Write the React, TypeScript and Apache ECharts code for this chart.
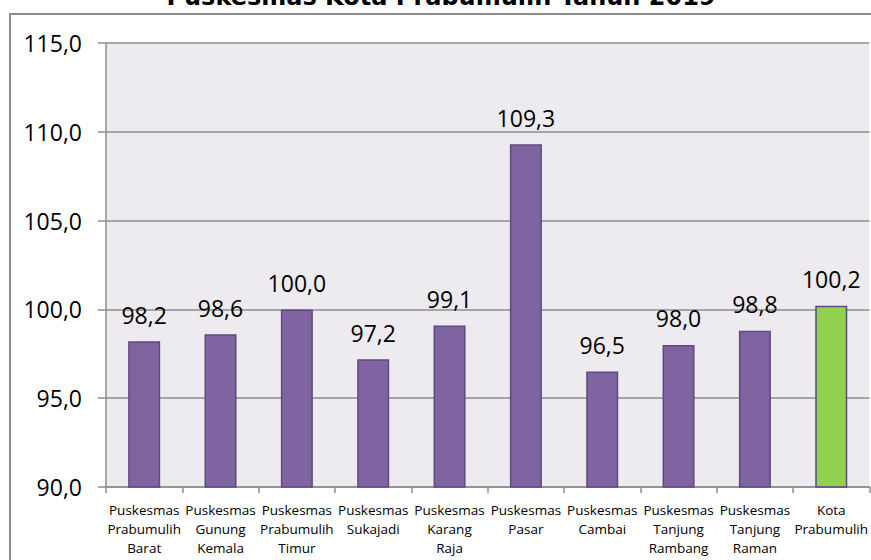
import React, { useEffect, useRef } from "react";
import * as echarts from "echarts";

const titleText = "Puskesmas Kota Prabumulih Tahun 2019";
const categories = [
  "Puskesmas\nPrabumulih\nBarat",
  "Puskesmas\nGunung\nKemala",
  "Puskesmas\nPrabumulih\nTimur",
  "Puskesmas\nSukajadi",
  "Puskesmas\nKarang\nRaja",
  "Puskesmas\nPasar",
  "Puskesmas\nCambai",
  "Puskesmas\nTanjung\nRambang",
  "Puskesmas\nTanjung\nRaman",
  "Kota\nPrabumulih",
];
const values = [98.2, 98.6, 100.0, 97.2, 99.1, 109.3, 96.5, 98.0, 98.8, 100.2];
const highlightIndex = 9;
const yMin = 90;
const yMax = 115;
const yInterval = 5;

const fmt = (v: number) => v.toFixed(1).replace(".", ",");

export default function App() {
  const ref = useRef<HTMLDivElement>(null);
  useEffect(() => {
    if (!ref.current) return;
    const chart = echarts.init(ref.current, undefined, { renderer: "svg" });
    const gray = "#8e8e8e";
    chart.setOption({
      animation: false,
      backgroundColor: "#ffffff",
      graphic: {
        elements: [
          {
            type: "polyline",
            shape: { points: [[10, 560], [10, 14], [871, 14]] },
            style: { stroke: "#8a8a8a", lineWidth: 2, fill: null },
            z: 100,
          },
          {
            type: "text",
            x: 441,
            y: -15,
            style: {
              text: titleText,
              font: "bold 24px 'DejaVu Sans'",
              fill: "#000",
              align: "center",
              verticalAlign: "top",
            },
          },
        ],
      },
      grid: {
        left: 106,
        right: 1,
        top: 43,
        bottom: 73,
        show: true,
        backgroundColor: "#EDEBF0",
        borderWidth: 0,
      },
      xAxis: {
        type: "category",
        data: categories,
        axisLine: { show: true, lineStyle: { color: gray, width: 1.5 } },
        axisTick: { show: true, length: 6, alignWithLabel: false, lineStyle: { color: gray, width: 1.5 } },
        axisLabel: {
          interval: 0,
          margin: 13,
          color: "#000",
          fontFamily: "'Open Sans'",
          fontSize: 13.5,
          lineHeight: 19,
        },
      },
      yAxis: {
        type: "value",
        min: yMin,
        max: yMax,
        interval: yInterval,
        axisLine: { show: true, lineStyle: { color: gray, width: 1.5 } },
        axisTick: { show: true, length: 8, inside: false, lineStyle: { color: gray, width: 1.5 } },
        splitLine: { show: true, lineStyle: { color: gray, width: 1.5 } },
        axisLabel: {
          margin: 24,
          color: "#000",
          fontFamily: "'Open Sans'",
          fontSize: 23,
          formatter: (v: number) => fmt(v),
        },
      },
      series: [
        {
          type: "bar",
          barWidth: 32,
          data: values.map((v, i) => ({
            value: v,
            itemStyle: {
              color: i === highlightIndex ? "#92D050" : "#8064A2",
              borderColor: "#5E4A7E",
              borderWidth: 1.5,
            },
          })),
          label: {
            show: true,
            position: "top",
            distance: 15,
            color: "#000",
            fontFamily: "'Open Sans'",
            fontSize: 23,
            formatter: (p: any) => fmt(p.value),
          },
        },
      ],
    });
    return () => chart.dispose();
  }, []);
  return (
    <>
      <div
        ref={ref}
        style={{ position: "fixed", left: 0, top: 0, width: 871, height: 560 }}
      />
      <div
        style={{
          position: "fixed",
          left: 9,
          top: 13,
          width: 900,
          height: 600,
          border: "2px solid #8a8a8a",
          boxSizing: "border-box",
          pointerEvents: "none",
        }}
      />
    </>
  );
}
